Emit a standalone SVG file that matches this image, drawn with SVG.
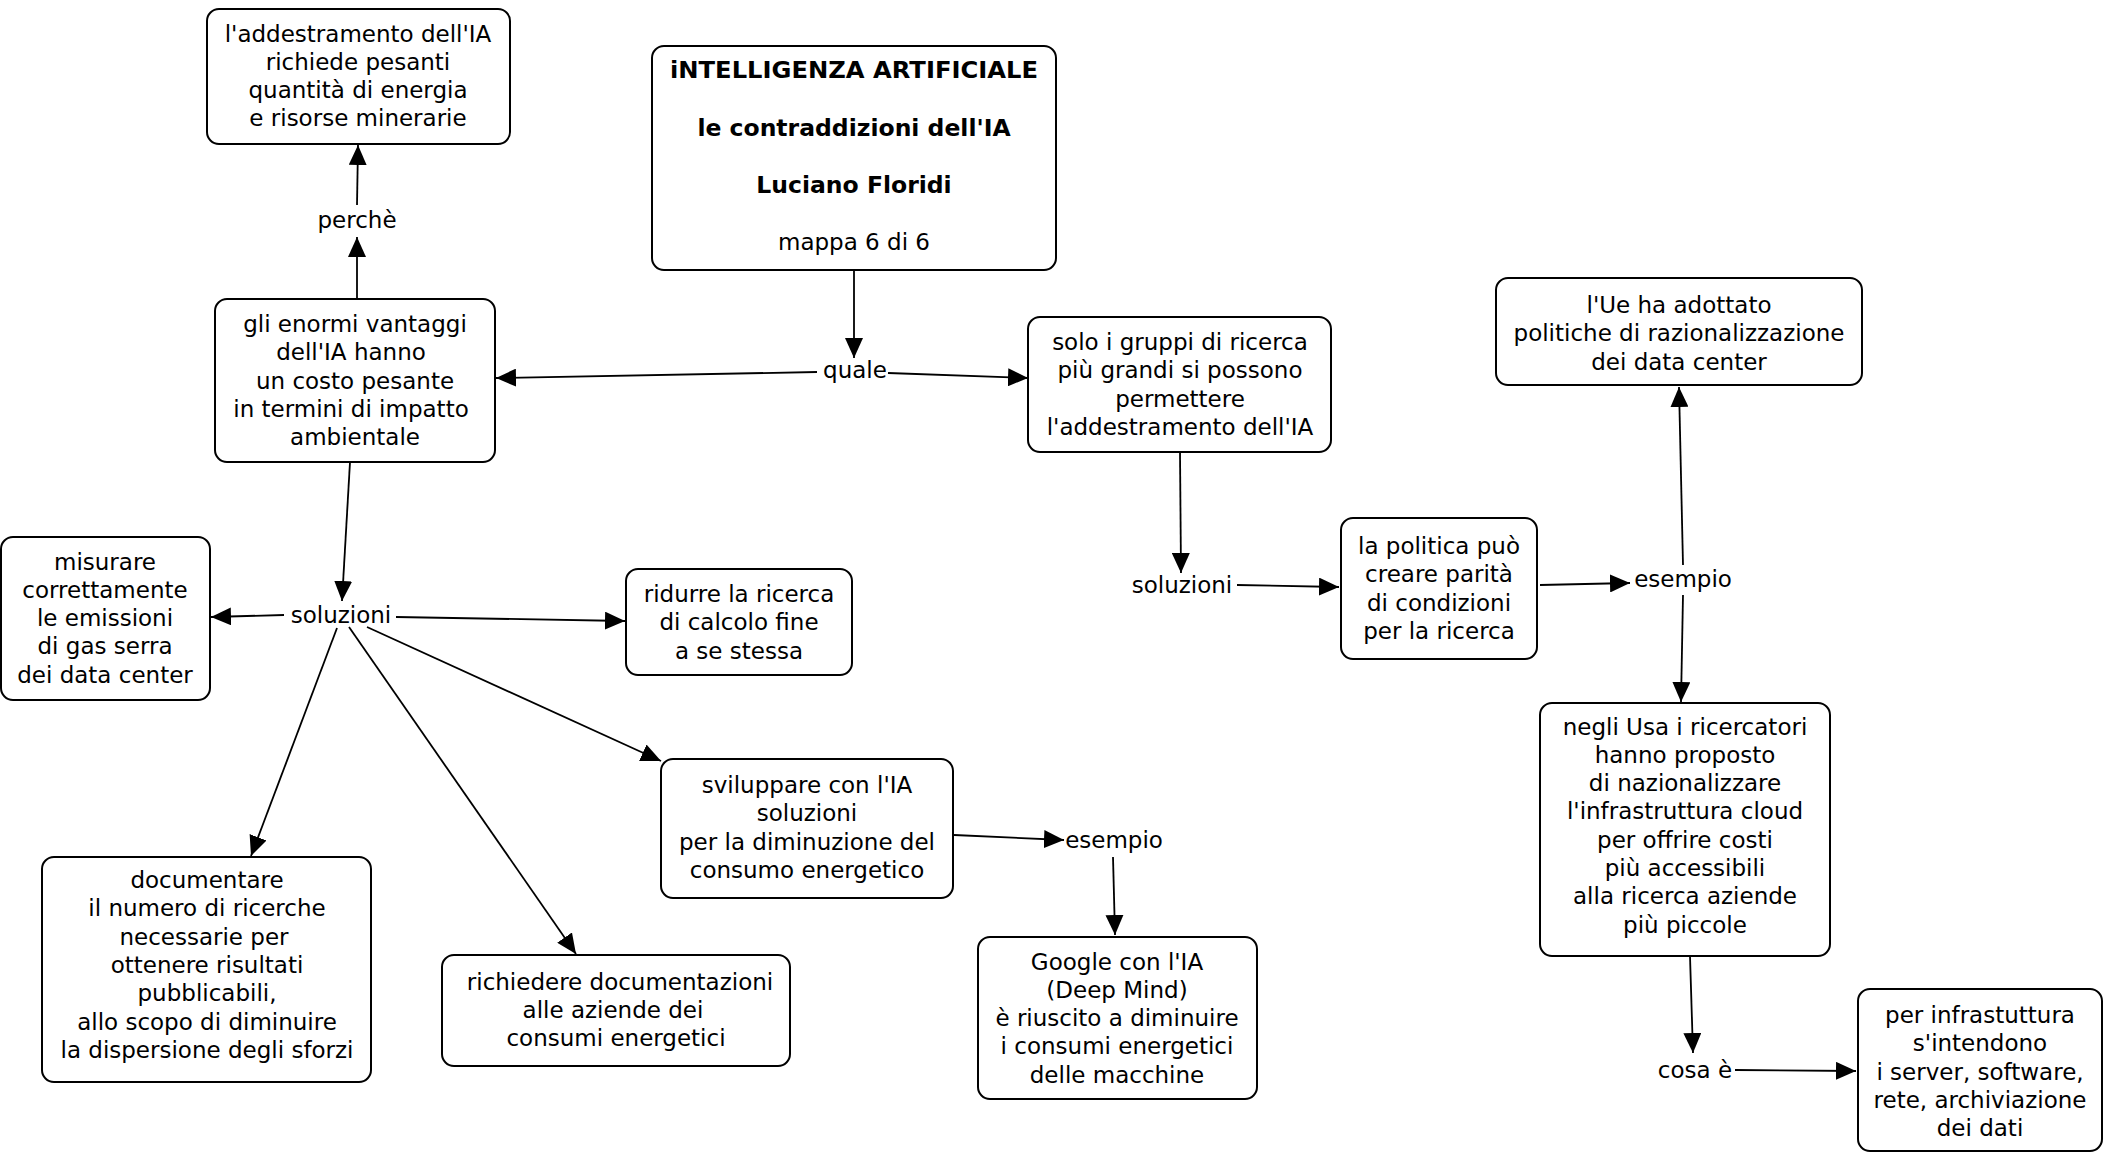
<svg xmlns="http://www.w3.org/2000/svg" width="2103" height="1152" viewBox="0 0 2103 1152">
<defs>
<marker id="arr" markerUnits="userSpaceOnUse" markerWidth="20" markerHeight="18" refX="20" refY="9" orient="auto">
<path d="M0,0 L20,9 L0,18 z" fill="#000"/>
</marker>
<style>
.box{fill:#fff;stroke:#000;stroke-width:2}
text{font-family:"DejaVu Sans","Verdana",sans-serif;font-size:23px;fill:#000;text-anchor:middle}
.b{font-weight:bold;font-size:23.5px}
.c{fill:none;stroke:#000;stroke-width:1.8;marker-end:url(#arr)}
</style>
</defs>
<rect width="2103" height="1152" fill="#fff"/>
<g id="connectors">
<path class="c" d="M854,270 L854,358"/>
<path class="c" d="M817,372 L496,378"/>
<path class="c" d="M888,373 L1028,378"/>
<path class="c" d="M357,205 L358,145"/>
<path class="c" d="M357,299 L357,237"/>
<path class="c" d="M350,462 L342,601"/>
<path class="c" d="M284,615 L211,617"/>
<path class="c" d="M396,617 L625,621"/>
<path class="c" d="M367,627 L661,761"/>
<path class="c" d="M349,627 L576,954"/>
<path class="c" d="M337,628 L251,856"/>
<path class="c" d="M1180,452 L1181,573"/>
<path class="c" d="M1237,585 L1339,587"/>
<path class="c" d="M1540,585 L1630,583"/>
<path class="c" d="M1683,565 L1679,387"/>
<path class="c" d="M1683,595 L1681,702"/>
<path class="c" d="M954,835 L1064,840"/>
<path class="c" d="M1113,857 L1115,935"/>
<path class="c" d="M1690,956 L1693,1053"/>
<path class="c" d="M1735,1070 L1856,1071"/>
</g>
<g id="n-title">
<rect class="box" x="652" y="46" width="404" height="224" rx="12"/>
<text class="b" x="854" y="78" textLength="368" lengthAdjust="spacingAndGlyphs">iNTELLIGENZA ARTIFICIALE</text>
<text class="b" x="854" y="136">le contraddizioni dell'IA</text>
<text class="b" x="854" y="193">Luciano Floridi</text>
<text x="854" y="250">mappa 6 di 6</text>
</g>
<g id="n-addestramento">
<rect class="box" x="207" y="9" width="303" height="135" rx="12"/>
<text x="358" y="41.5">l'addestramento dell'IA</text>
<text x="358" y="69.8">richiede pesanti</text>
<text x="358" y="98">quantità di energia</text>
<text x="358" y="126.3">e risorse minerarie</text>
</g>
<g id="l-perche"><text x="357" y="228">perchè</text></g>
<g id="n-vantaggi">
<rect class="box" x="215" y="299" width="280" height="163" rx="12"/>
<text x="355" y="332">gli enormi vantaggi</text>
<text x="351" y="360.3">dell'IA hanno</text>
<text x="355" y="388.6">un costo pesante</text>
<text x="351" y="416.9">in termini di impatto</text>
<text x="355" y="445.2">ambientale</text>
</g>
<g id="l-quale"><text x="855" y="378">quale</text></g>
<g id="n-solo">
<rect class="box" x="1028" y="317" width="303" height="135" rx="12"/>
<text x="1180" y="350">solo i gruppi di ricerca</text>
<text x="1180" y="378.3">più grandi si possono</text>
<text x="1180" y="406.6">permettere</text>
<text x="1180" y="434.9">l'addestramento dell'IA</text>
</g>
<g id="n-ue">
<rect class="box" x="1496" y="278" width="366" height="107" rx="12"/>
<text x="1679" y="313">l'Ue ha adottato</text>
<text x="1679" y="341.3">politiche di razionalizzazione</text>
<text x="1679" y="369.6">dei data center</text>
</g>
<g id="l-soluzioni1"><text x="341" y="623">soluzioni</text></g>
<g id="n-misurare">
<rect class="box" x="1" y="537" width="209" height="163" rx="12"/>
<text x="105" y="569.5">misurare</text>
<text x="105" y="597.8">correttamente</text>
<text x="105" y="626.1">le emissioni</text>
<text x="105" y="654.4">di gas serra</text>
<text x="105" y="682.7">dei data center</text>
</g>
<g id="n-ridurre">
<rect class="box" x="626" y="569" width="226" height="106" rx="12"/>
<text x="739" y="602">ridurre la ricerca</text>
<text x="739" y="630.3">di calcolo fine</text>
<text x="739" y="658.6">a se stessa</text>
</g>
<g id="l-soluzioni2"><text x="1182" y="593">soluzioni</text></g>
<g id="n-politica">
<rect class="box" x="1341" y="518" width="196" height="141" rx="12"/>
<text x="1439" y="554">la politica può</text>
<text x="1439" y="582.3">creare parità</text>
<text x="1439" y="610.6">di condizioni</text>
<text x="1439" y="638.9">per la ricerca</text>
</g>
<g id="l-esempio1"><text x="1683" y="587">esempio</text></g>
<g id="n-sviluppare">
<rect class="box" x="661" y="759" width="292" height="139" rx="12"/>
<text x="807" y="793">sviluppare con l'IA</text>
<text x="807" y="821.3">soluzioni</text>
<text x="807" y="849.6">per la diminuzione del</text>
<text x="807" y="877.9">consumo energetico</text>
</g>
<g id="l-esempio2"><text x="1114" y="848">esempio</text></g>
<g id="n-google">
<rect class="box" x="978" y="937" width="279" height="162" rx="12"/>
<text x="1117" y="969.5">Google con l'IA</text>
<text x="1117" y="997.8">(Deep Mind)</text>
<text x="1117" y="1026.1">è riuscito a diminuire</text>
<text x="1117" y="1054.4">i consumi energetici</text>
<text x="1117" y="1082.7">delle macchine</text>
</g>
<g id="n-richiedere">
<rect class="box" x="442" y="955" width="348" height="111" rx="12"/>
<text x="620" y="989.5">richiedere documentazioni</text>
<text x="613" y="1017.8">alle aziende dei</text>
<text x="616" y="1046.1">consumi energetici</text>
</g>
<g id="n-documentare">
<rect class="box" x="42" y="857" width="329" height="225" rx="12"/>
<text x="207" y="888">documentare</text>
<text x="207" y="916.3">il numero di ricerche</text>
<text x="204" y="944.6">necessarie per</text>
<text x="207" y="972.9">ottenere risultati</text>
<text x="207" y="1001.2">pubblicabili,</text>
<text x="207" y="1029.5">allo scopo di diminuire</text>
<text x="207" y="1057.8">la dispersione degli sforzi</text>
</g>
<g id="n-usa">
<rect class="box" x="1540" y="703" width="290" height="253" rx="12"/>
<text x="1685" y="734.5">negli Usa i ricercatori</text>
<text x="1685" y="762.8">hanno proposto</text>
<text x="1685" y="791.1">di nazionalizzare</text>
<text x="1685" y="819.4">l'infrastruttura cloud</text>
<text x="1685" y="847.7">per offrire costi</text>
<text x="1685" y="876">più accessibili</text>
<text x="1685" y="904.3">alla ricerca aziende</text>
<text x="1685" y="932.6">più piccole</text>
</g>
<g id="l-cosa"><text x="1695" y="1078">cosa è</text></g>
<g id="n-infrastuttura">
<rect class="box" x="1858" y="989" width="244" height="162" rx="12"/>
<text x="1980" y="1023">per infrastuttura</text>
<text x="1980" y="1051.3">s'intendono</text>
<text x="1980" y="1079.6">i server, software,</text>
<text x="1980" y="1107.9">rete, archiviazione</text>
<text x="1980" y="1136.2">dei dati</text>
</g>
</svg>
